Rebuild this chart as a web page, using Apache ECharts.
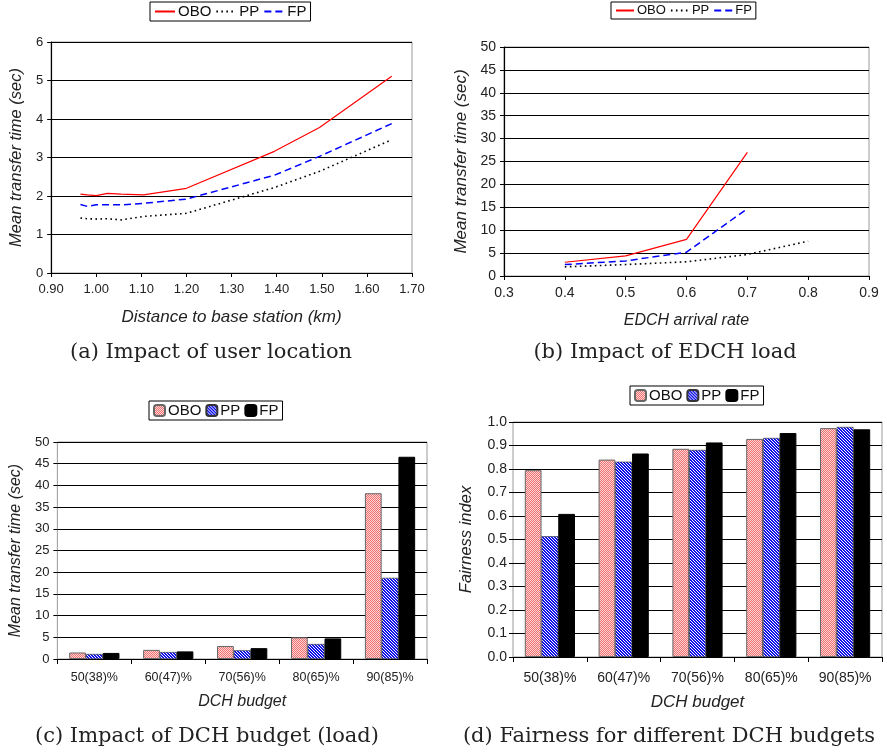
<!DOCTYPE html>
<html>
<head>
<meta charset="utf-8">
<script src="https://cdn.jsdelivr.net/npm/echarts@6/dist/echarts.min.js"></script>
<style>
  html, body { margin: 0; padding: 0; background: #fff; }
  #wrap { position: relative; width: 887px; height: 752px; }
  .pane { position: absolute; width: 444px; height: 376px; }
</style>
</head>
<body>
<div id="wrap">
  <div class="pane" id="pa" style="left:0;top:0"></div>
  <div class="pane" id="pb" style="left:443px;top:0"></div>
  <div class="pane" id="pc" style="left:0;top:376px"></div>
  <div class="pane" id="pd" style="left:443px;top:376px"></div>
</div>
<script>
// (a) distance to base station
var distKm = [0.965, 0.98, 1.0, 1.025, 1.055, 1.105, 1.2, 1.395, 1.495, 1.655];
var oboDist = [2.05, 2.03, 2.01, 2.07, 2.05, 2.03, 2.2, 3.16, 3.78, 5.11];
var ppDist = [1.43, 1.41, 1.40, 1.41, 1.38, 1.47, 1.55, 2.22, 2.64, 3.46];
var fpDist = [1.78, 1.73, 1.77, 1.77, 1.77, 1.81, 1.92, 2.54, 3.03, 3.88];

// (b) EDCH arrival rate
var rates = [0.4, 0.5, 0.6, 0.7, 0.8];
var oboRate = [3.0, 4.4, 8.0, 27.0];
var ppRate = [2.0, 2.5, 3.1, 4.7, 7.6];
var fpRate = [2.5, 3.3, 5.2, 14.7];

// (c) and (d) DCH budget
var budgets = ["50(38)%", "60(47)%", "70(56)%", "80(65)%", "90(85)%"];
var oboTime = [1.5, 2.1, 3.0, 5.0, 38.2];
var ppTime = [1.15, 1.6, 2.0, 3.45, 18.7];
var fpTime = [1.4, 1.75, 2.5, 4.75, 46.6];
var oboFair = [0.795, 0.84, 0.886, 0.928, 0.974];
var ppFair = [0.514, 0.831, 0.881, 0.932, 0.979];
var fpFair = [0.609, 0.866, 0.913, 0.953, 0.969];

var SANS = "Liberation Sans, Arial, sans-serif";
var SERIF = "DejaVu Serif, serif";

function pairs(xs, ys) {
    return ys.map(function(y, i) { return [xs[i], y]; });
}

function pinkFill() {
    var c = document.createElement("canvas");
    c.width = 4; c.height = 4;
    var g = c.getContext("2d");
    g.fillStyle = "#fcd6d6"; g.fillRect(0, 0, 4, 4);
    g.fillStyle = "#f07070";
    for (var x = 0; x < 4; x++) for (var y = 0; y < 4; y++) if ((x + y) % 2 == 0) g.fillRect(x, y, 1, 1);
    return { image: c, repeat: "repeat" };
}

function blueFill() {
    var c = document.createElement("canvas");
    c.width = 3; c.height = 3;
    var g = c.getContext("2d");
    g.fillStyle = "#1010e8"; g.fillRect(0, 0, 3, 3);
    g.fillStyle = "#fff";
    for (var x = 0; x < 3; x++) for (var y = 0; y < 3; y++) if (((x - y) % 3 + 3) % 3 == 0) g.fillRect(x, y, 1, 1);
    return { image: c, repeat: "repeat" };
}

function legendBox(left, top, size, iw, ih, isLine) {
    var lg = {
        left: left, top: top, orient: "horizontal",
        borderColor: "#000", borderWidth: 1, padding: [2, 4],
        itemGap: 4, itemWidth: iw, itemHeight: ih,
        textStyle: { fontFamily: SANS, fontSize: size, color: "#111", padding: [0, 0, 0, -2] },
        data: ["OBO", "PP", "FP"]
    };
    if (isLine) {
        lg.itemStyle = { opacity: 0 };
        lg.lineStyle = { width: 2 };
    }
    return lg;
}

function axisBase(o) {
    var a = {
        axisLine: { lineStyle: { color: "#000", width: 1.2 } },
        axisTick: { show: true, length: 4, lineStyle: { color: "#000" } },
        axisLabel: { fontFamily: SANS, color: "#222" },
        nameTextStyle: { fontFamily: SANS, fontStyle: "italic", color: "#222" },
        nameLocation: "middle",
        splitLine: { show: false }
    };
    for (var k in o) a[k] = o[k];
    return a;
}

function caption(x, y, txt) {
    return {
        type: "text", x: x, y: y,
        style: { text: txt, font: "21px " + SERIF, fill: "#222", align: "center", verticalAlign: "middle" }
    };
}

function lineSeries(name, data) {
    var styles = {
        OBO: { color: "#ff0000", width: 1.2, type: "solid" },
        PP: { color: "#000", width: 1.6, type: [1.6, 3.4] },
        FP: { color: "#0000ff", width: 1.5, type: [7, 4] }
    };
    var st = styles[name];
    return {
        name: name, type: "line", data: data, showSymbol: false, symbol: "none",
        itemStyle: { color: st.color },
        lineStyle: { color: st.color, width: st.width, type: st.type },
        animation: false
    };
}

function barSeries(name, data) {
    var fills = {
        OBO: { color: pinkFill(), borderColor: "#666", borderWidth: 1 },
        PP: { color: blueFill(), borderColor: "#333", borderWidth: 0.6 },
        FP: { color: "#000", borderColor: "#000", borderWidth: 1 }
    };
    return {
        name: name, type: "bar", data: data, barGap: "0%", barCategoryGap: "32%",
        itemStyle: fills[name], animation: false
    };
}

function gridBox(l, t, w, h) {
    return { left: l, top: t, width: w, height: h, show: true, borderColor: "#9a9a9a", borderWidth: 1, backgroundColor: "#fff" };
}

var split = { show: true, lineStyle: { color: "#000", width: 1 } };

// (a)
var chartA = echarts.init(document.getElementById("pa"));
chartA.setOption({
    animation: false,
    legend: legendBox(150, 2, 15, 20, 10, true),
    grid: gridBox(48, 42, 364, 231),
    xAxis: axisBase({
        type: "value", min: 0.9, max: 1.7, interval: 0.1,
        name: "Distance to base station (km)", nameGap: 36,
        nameTextStyle: { fontFamily: SANS, fontStyle: "italic", color: "#222", fontSize: 17 },
        axisLabel: { fontFamily: SANS, color: "#222", fontSize: 13, margin: 10, formatter: function(v) { return v.toFixed(2); } }
    }),
    yAxis: axisBase({
        type: "value", min: 0, max: 6, interval: 1,
        name: "Mean transfer time (sec)", nameGap: 26,
        nameTextStyle: { fontFamily: SANS, fontStyle: "italic", color: "#222", fontSize: 16.5 },
        axisLabel: { fontFamily: SANS, color: "#222", fontSize: 13, margin: 8 },
        splitLine: split
    }),
    series: [
        lineSeries("OBO", pairs(distKm, oboDist)),
        lineSeries("PP", pairs(distKm, ppDist)),
        lineSeries("FP", pairs(distKm, fpDist))
    ],
    graphic: [caption(211, 353, "(a) Impact of user location")]
});

// (b)
var chartB = echarts.init(document.getElementById("pb"));
chartB.setOption({
    animation: false,
    legend: legendBox(168, 2, 13, 18, 10, true),
    grid: gridBox(61, 47, 365, 229),
    xAxis: axisBase({
        type: "value", min: 0.3, max: 0.9, interval: 0.1,
        name: "EDCH arrival rate", nameGap: 37,
        nameTextStyle: { fontFamily: SANS, fontStyle: "italic", color: "#222", fontSize: 16 },
        axisLabel: { fontFamily: SANS, color: "#222", fontSize: 14, margin: 10, formatter: function(v) { return v.toFixed(1); } }
    }),
    yAxis: axisBase({
        type: "value", min: 0, max: 50, interval: 5,
        name: "Mean transfer time (sec)", nameGap: 31,
        nameTextStyle: { fontFamily: SANS, fontStyle: "italic", color: "#222", fontSize: 17 },
        axisLabel: { fontFamily: SANS, color: "#222", fontSize: 14, margin: 8 },
        splitLine: split
    }),
    series: [
        lineSeries("OBO", pairs(rates, oboRate)),
        lineSeries("PP", pairs(rates, ppRate)),
        lineSeries("FP", pairs(rates, fpRate))
    ],
    graphic: [caption(222, 353, "(b) Impact of EDCH load")]
});

// (c)
var chartC = echarts.init(document.getElementById("pc"));
chartC.setOption({
    animation: false,
    legend: legendBox(149, 25, 15, 11, 11, false),
    grid: gridBox(53, 66, 374, 217),
    xAxis: axisBase({
        type: "category", data: budgets,
        name: "DCH budget", nameGap: 35,
        nameTextStyle: { fontFamily: SANS, fontStyle: "italic", color: "#222", fontSize: 16 },
        axisTick: { show: true, length: 5, alignWithLabel: false, lineStyle: { color: "#000" } },
        axisLabel: { fontFamily: SANS, color: "#222", fontSize: 12.5, margin: 12 }
    }),
    yAxis: axisBase({
        type: "value", min: 0, max: 50, interval: 5,
        name: "Mean transfer time (sec)", nameGap: 31,
        nameTextStyle: { fontFamily: SANS, fontStyle: "italic", color: "#222", fontSize: 16 },
        axisLabel: { fontFamily: SANS, color: "#222", fontSize: 13, margin: 8 },
        splitLine: split
    }),
    series: [barSeries("OBO", oboTime), barSeries("PP", ppTime), barSeries("FP", fpTime)],
    graphic: [caption(207, 361, "(c) Impact of DCH budget (load)")]
});

// (d)
var chartD = echarts.init(document.getElementById("pd"));
chartD.setOption({
    animation: false,
    legend: legendBox(187, 10, 15, 11, 11, false),
    grid: gridBox(70, 46, 369, 235),
    xAxis: axisBase({
        type: "category", data: budgets,
        name: "DCH budget", nameGap: 37,
        nameTextStyle: { fontFamily: SANS, fontStyle: "italic", color: "#222", fontSize: 17 },
        axisTick: { show: true, length: 5, alignWithLabel: false, lineStyle: { color: "#000" } },
        axisLabel: { fontFamily: SANS, color: "#222", fontSize: 14, margin: 14 }
    }),
    yAxis: axisBase({
        type: "value", min: 0, max: 1, interval: 0.1,
        name: "Fairness index", nameGap: 38,
        nameTextStyle: { fontFamily: SANS, fontStyle: "italic", color: "#222", fontSize: 16.5 },
        axisLabel: { fontFamily: SANS, color: "#222", fontSize: 14, margin: 6, formatter: function(v) { return v.toFixed(1); } },
        splitLine: split
    }),
    series: [barSeries("OBO", oboFair), barSeries("PP", ppFair), barSeries("FP", fpFair)],
    graphic: [caption(226, 361, "(d) Fairness for different DCH budgets")]
});
</script>
</body>
</html>
